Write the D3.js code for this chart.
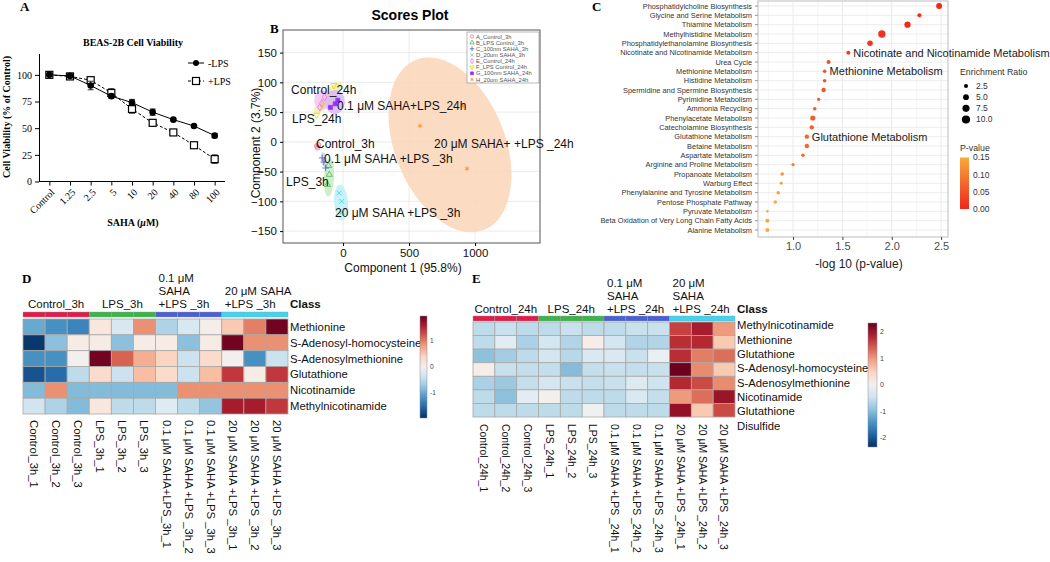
<!DOCTYPE html>
<html>
<head>
<meta charset="utf-8">
<script src="https://cdn.jsdelivr.net/npm/d3@7"></script>
<style>
  body { margin: 0; background: #fff; }
  svg { display: block; font-family: "Liberation Sans", Arial, sans-serif; }
</style>
</head>
<body>
<svg id="fig" width="1050" height="562"></svg>
<script>
// ---- data: panel A (cell viability) ----
var doses = ["Control", "1.25", "2.5", "5", "10", "20", "40", "80", "100"];
var viabNoLPS = [100, 99, 90, 80, 74, 65, 58, 52, 43];
var errNoLPS = [1, 1.5, 4, 2, 3, 3, 1, 1, 2];
var viabLPS = [100, 98.5, 95, 83, 68, 55, 46, 34, 21];
var errLPS = [1, 2, 1, 4, 4, 2, 2, 2, 4];

// ---- data: panel B (PCA scores) ----
var pcaGroups = ["A_Control_3h", "B_LPS Control_3h", "C_100nm SAHA_3h", "D_20um SAHA_3h",
                 "E_Control_24h", "F_LPS Control_24h", "G_100nm SAHA_24h", "H_20um SAHA_24h"];
var pcaGroupOf = [0,0,0, 1,1,1, 2,2,2, 3,3,3, 4,4,4, 5,5,5, 6,6,6, 7,7,7];
var pc1 = [-200,-192,-186, -110,-118,-104, -158,-146,-132, -30,-10,-5, -160,-140,-176, -200,-160,-70, -40,-95,-60, 909,583,939];
var pc2 = [-7,-10,-5, -40,-72,-55, -27,-34,-44, -86,-100,-118, 65,75,58, 45,62,95, 70,58,64, 60,27,-45];
// confidence ellipses: group, centre (pc1, pc2), semi-axes in pc units, tilt (deg)
var ellGroup = [7, 3, 1, 2, 0, 5, 4, 6];
var ellCx = [810, -15, -106, -144, -192, -114, -159, -61];
var ellCy = [-5, -102, -60, -30, -7, 74, 70, 67];
var ellRx = [417, 53, 38, 23, 23, 45, 60, 76];
var ellRy = [154, 30, 32, 13, 5, 34, 17, 20];
var ellAngle = [-22, -4, 3, -10, 0, 40, 0, 0];
var scoreLabels = ["Control_24h", "0.1 μM SAHA+LPS_24h", "LPS_24h", "Control_3h",
                   "0.1 μM SAHA +LPS _3h", "20 μM SAHA+ +LPS _24h", "LPS_3h", "20 μM SAHA +LPS _3h"];
var scoreLabelPc1 = [-394, -45, -386, -205, -144, 689, -432, -61];
var scoreLabelPc2 = [80, 54, 32, -10, -35, -10, -75, -126];

// ---- data: panel C (pathway enrichment) ----
var pathways = ["Phosphatidylcholine Biosynthesis", "Glycine and Serine Metabolism", "Thiamine Metabolism",
  "Methylhistidine Metabolism", "Phosphatidylethanolamine Biosynthesis", "Nicotinate and Nicotinamide Metabolism",
  "Urea Cycle", "Methionine Metabolism", "Histidine Metabolism", "Spermidine and Spermine Biosynthesis",
  "Pyrimidine Metabolism", "Ammonia Recycling", "Phenylacetate Metabolism", "Catecholamine Biosynthesis",
  "Glutathione Metabolism", "Betaine Metabolism", "Aspartate Metabolism", "Arginine and Proline Metabolism",
  "Propanoate Metabolism", "Warburg Effect", "Phenylalanine and Tyrosine Metabolism", "Pentose Phosphate Pathway",
  "Pyruvate Metabolism", "Beta Oxidation of Very Long Chain Fatty Acids", "Alanine Metabolism"];
var negLogP = [2.48, 2.28, 2.16, 1.90, 1.78, 1.56, 1.36, 1.32, 1.32, 1.31, 1.26, 1.22, 1.20, 1.19,
  1.14, 1.14, 1.10, 1.00, 0.89, 0.88, 0.85, 0.82, 0.74, 0.74, 0.74];
var enrichRatio = [5.3, 2.4, 5.9, 8.0, 4.6, 2.4, 2.4, 1.9, 1.9, 2.9, 1.6, 1.9, 4.0, 2.9,
  2.9, 2.9, 1.9, 1.6, 1.9, 1.3, 1.9, 1.9, 1.0, 2.4, 2.4];
var calloutNames = ["Nicotinate and Nicotinamide Metabolism", "Methionine Metabolism", "Glutathione Metabolism"];

// ---- data: panels D and E (heatmaps) ----
var groupsD = ["Control_3h", "LPS_3h", "0.1 μM\nSAHA\n+LPS _3h", "20 μM SAHA\n+LPS _3h"];
var samplesD = ["Control_3h_1", "Control_3h_2", "Control_3h_3", "LPS_3h_1", "LPS_3h_2", "LPS_3h_3",
  "0.1 μM SAHA+LPS_3h_1", "0.1 μM SAHA +LPS _3h_2", "0.1 μM SAHA +LPS _3h_3",
  "20 μM SAHA +LPS _3h_1", "20 μM SAHA +LPS _3h_2", "20 μM SAHA +LPS _3h_3"];
var metabD = ["Methionine", "S-Adenosyl-homocysteine", "S-Adenosylmethionine", "Glutathione", "Nicotinamide", "Methylnicotinamide"];
var heatD = [
  [-1.0, -1.2, -1.3, 0.2, -0.3, 0.9, -0.6, -0.3, 0.05, 0.5, 1.0, 1.9],
  [-1.9, -0.8, 0.12, 0.12, -0.8, 0.12, 0.12, -0.8, 0.12, 1.9, 0.9, 0.9],
  [-1.2, -1.2, 0.0, 1.9, 1.15, 0.7, 0.4, -0.4, 0.35, 0.0, -1.2, -0.4],
  [-1.7, -1.5, -0.5, 0.35, -0.4, 0.6, 0.35, -0.4, 0.6, 1.4, 0.12, 1.4],
  [-0.85, 0.9, -0.85, -0.85, -0.85, -0.85, -0.85, 0.9, 0.9, 0.9, 0.9, 0.9],
  [-0.35, -0.6, -0.85, 0.2, -0.5, -0.5, -0.25, -0.5, -0.75, 1.6, 1.6, 1.4]
];
var groupsE = ["Control_24h", "LPS_24h", "0.1 μM\nSAHA\n+LPS _24h", "20 μM\nSAHA\n+LPS _24h"];
var samplesE = ["Control_24h_1", "Control_24h_2", "Control_24h_3", "LPS_24h_1", "LPS_24h_2", "LPS_24h_3",
  "0.1 μM SAHA +LPS _24h_1", "0.1 μM SAHA +LPS _24h_2", "0.1 μM SAHA +LPS _24h_3",
  "20 μM SAHA +LPS _24h_1", "20 μM SAHA +LPS _24h_2", "20 μM SAHA +LPS _24h_3"];
var metabE = ["Methylnicotinamide", "Methionine", "Glutathione", "S-Adenosyl-homocysteine",
  "S-Adenosylmethionine", "Nicotinamide", "Glutathione\nDisulfide"];
var heatE = [
  [-0.6, -0.5, -0.6, -0.6, -0.5, -0.6, -0.6, -0.5, -0.5, 1.6, 1.9, 1.0],
  [-0.6, -0.25, -0.75, -0.4, -0.7, 0.1, -0.4, -0.7, -0.7, 1.75, 1.8, 0.6],
  [-0.95, -0.8, -0.6, -0.4, -0.65, -0.35, -0.35, -0.5, -0.15, 1.75, 1.2, 1.3],
  [0.1, -0.5, -0.55, -0.55, -1.0, -0.55, -0.5, -0.55, -0.5, 2.3, 1.1, 0.6],
  [-0.75, -0.85, -0.55, -0.4, -0.5, -0.55, -0.5, -0.3, -0.45, 1.8, 1.55, 1.1],
  [-0.6, -0.95, -0.25, 0.05, -0.6, -0.6, -0.6, -0.35, -0.55, 1.0, 1.3, 2.0],
  [-0.6, -0.6, -0.6, -0.6, -0.6, -0.05, -0.6, -0.6, -0.6, 2.05, 0.6, 1.55]
];

// ---- styles ----
var serif = "'Liberation Serif', 'Times New Roman', serif";
var pcaColors = ["#f4748c", "#4cb84c", "#3a5fcd", "#40d0e8", "#ee70ee", "#e0d400", "#9b30ff", "#ff8c1a"];
// ellipse fill per group (A..H)
var ellFill = ["#f8c8d2", "#c4eac4", "#cfd2f6", "#bdf0f8", "#f3c6f3", "#f4ef9c", "#d9b8f2", "#fbd5b8"];
var classColors = ["#e31a4a", "#3bb54a", "#4860d6", "#3fd4f2"];

var svg = d3.select("#fig");

function panelLetter(t, x, y) {
  svg.append("text").attr("x", x).attr("y", y).attr("font-family", serif)
    .attr("font-weight", "bold").attr("font-size", 13).text(t);
}
panelLetter("A", 20, 11);
panelLetter("B", 270, 33);
panelLetter("C", 592, 11);
panelLetter("D", 22, 283);
panelLetter("E", 472, 283);

// ================= panel A =================
(function () {
  var g = svg.append("g").attr("font-family", serif);
  var x = d3.scalePoint().domain(doses).range([39, 225]).padding(0.5);
  var y = d3.scaleLinear().domain([0, 120]).range([181.5, 53.5]);

  g.append("text").attr("x", 133).attr("y", 46).attr("text-anchor", "middle")
    .attr("font-weight", "bold").attr("font-size", 10).text("BEAS-2B Cell Viability");

  var ax = g.append("g").attr("transform", "translate(0,181.5)")
    .call(d3.axisBottom(x).tickSize(4).tickSizeOuter(0));
  ax.attr("font-family", serif).attr("font-size", 10);
  ax.select(".domain").attr("d", "M39,0H225");
  ax.selectAll(".tick text").attr("x", 0).attr("y", 0).attr("dy", "0.35em")
    .attr("text-anchor", "end").attr("transform", "translate(3,9) rotate(-45)").attr("fill", "#000");

  var ay = g.append("g").attr("transform", "translate(39,0)")
    .call(d3.axisLeft(y).tickValues([0, 25, 50, 75, 100]).tickSize(4).tickSizeOuter(0));
  ay.attr("font-family", serif).attr("font-size", 10);
  ay.selectAll(".tick text").attr("fill", "#000");

  g.append("text").attr("transform", "translate(10,117) rotate(-90)").attr("text-anchor", "middle")
    .attr("font-weight", "bold").attr("font-size", 10).text("Cell Viability (% of Control)");
  g.append("text").attr("x", 133).attr("y", 226).attr("text-anchor", "middle")
    .attr("font-weight", "bold").attr("font-size", 10)
    .html("SAHA (<tspan font-style='italic'>μ</tspan>M)");

  function series(vals, errs, dashed, square) {
    var line = d3.line().x(function (d, i) { return x(doses[i]); }).y(function (d) { return y(d); });
    g.append("path").attr("d", line(vals)).attr("fill", "none").attr("stroke", "#000")
      .attr("stroke-width", 1).attr("stroke-dasharray", dashed ? "3,2" : null);
    vals.forEach(function (v, i) {
      var cx = x(doses[i]);
      g.append("path").attr("d", "M" + cx + "," + y(v - errs[i]) + "V" + y(v + errs[i]) +
        "M" + (cx - 3) + "," + y(v - errs[i]) + "h6M" + (cx - 3) + "," + y(v + errs[i]) + "h6")
        .attr("stroke", "#000").attr("stroke-width", 0.8).attr("fill", "none");
      if (square) {
        g.append("rect").attr("x", cx - 3.5).attr("y", y(v) - 3.5).attr("width", 7).attr("height", 7)
          .attr("fill", "#fff").attr("stroke", "#000").attr("stroke-width", 1.2);
      } else {
        g.append("circle").attr("cx", cx).attr("cy", y(v)).attr("r", 3.3).attr("fill", "#000");
      }
    });
  }
  series(viabLPS, errLPS, true, true);
  series(viabNoLPS, errNoLPS, false, false);

  // legend
  var lg = g.append("g");
  lg.append("line").attr("x1", 188).attr("x2", 204).attr("y1", 63).attr("y2", 63).attr("stroke", "#000");
  lg.append("circle").attr("cx", 196).attr("cy", 63).attr("r", 3).attr("fill", "#000");
  lg.append("text").attr("x", 208).attr("y", 66.5).attr("font-size", 10).text("-LPS");
  lg.append("line").attr("x1", 188).attr("x2", 204).attr("y1", 81).attr("y2", 81).attr("stroke", "#000").attr("stroke-dasharray", "3,2");
  lg.append("rect").attr("x", 192.5).attr("y", 77.5).attr("width", 7).attr("height", 7)
    .attr("fill", "#fff").attr("stroke", "#000").attr("stroke-width", 1.2);
  lg.append("text").attr("x", 208).attr("y", 84.5).attr("font-size", 10).text("+LPS");
})();

// ================= panel B =================
(function () {
  var g = svg.append("g");
  var L = 283, R = 540, T = 30, B = 243;
  var x = d3.scaleLinear().domain([-455, 1492]).range([L, R]);
  var y = d3.scaleLinear().domain([-170, 188]).range([B, T]);

  g.append("text").attr("x", 410).attr("y", 20).attr("text-anchor", "middle")
    .attr("font-weight", "bold").attr("font-size", 14).text("Scores Plot");

  g.append("defs").append("clipPath").attr("id", "clipB").append("rect")
    .attr("x", L).attr("y", T).attr("width", R - L).attr("height", B - T);

  var grid = g.append("g").attr("stroke", "#e6e6e6").attr("stroke-width", 0.8);
  [0, 500, 1000].forEach(function (v) {
    grid.append("line").attr("x1", x(v)).attr("x2", x(v)).attr("y1", T).attr("y2", B);
  });
  [-150, -100, -50, 0, 50, 100, 150].forEach(function (v) {
    grid.append("line").attr("x1", L).attr("x2", R).attr("y1", y(v)).attr("y2", y(v));
  });

  var plot = g.append("g").attr("clip-path", "url(#clipB)");
  ellGroup.forEach(function (gi, k) {
    plot.append("ellipse")
      .attr("transform", "translate(" + x(ellCx[k]) + "," + y(ellCy[k]) + ") rotate(" + ellAngle[k] + ")")
      .attr("rx", x(ellRx[k]) - x(0)).attr("ry", y(0) - y(ellRy[k]))
      .attr("fill", ellFill[gi]).attr("fill-opacity", 0.85);
  });

  var symTimes = d3.symbolTimes || d3.symbolCross;
  var symPlus = d3.symbolPlus || d3.symbolCross;
  var symAst = d3.symbolAsterisk || d3.symbolStar;
  var syms = [d3.symbolCircle, d3.symbolTriangle, symPlus, symTimes, d3.symbolDiamond, d3.symbolTriangle, d3.symbolSquare, symAst];
  function drawSym(sel, gi, size) {
    sel.attr("d", d3.symbol().type(syms[gi]).size(size)());
    if (gi === 6) sel.attr("fill", pcaColors[gi]);
    else sel.attr("fill", "none");
    sel.attr("stroke", pcaColors[gi]).attr("stroke-width", 0.8);
  }
  pc1.forEach(function (v, i) {
    var gi = pcaGroupOf[i];
    var p = plot.append("path").attr("transform", "translate(" + x(v) + "," + y(pc2[i]) + ")" + (gi === 5 ? " rotate(180)" : ""));
    drawSym(p, gi, 16);
  });

  g.append("rect").attr("x", L).attr("y", T).attr("width", R - L).attr("height", B - T)
    .attr("fill", "none").attr("stroke", "#555").attr("stroke-width", 1);

  var ay = g.append("g").attr("transform", "translate(" + L + ",0)")
    .call(d3.axisLeft(y).tickValues([-150, -100, -50, 0, 50, 100, 150]).tickSize(3).tickSizeOuter(0));
  ay.select(".domain").remove();
  ay.attr("font-size", 11.5).attr("font-family", "'Liberation Sans', Arial, sans-serif");
  ay.selectAll(".tick text").attr("fill", "#111");
  var ax = g.append("g").attr("transform", "translate(0," + B + ")")
    .call(d3.axisBottom(x).tickValues([0, 500, 1000]).tickFormat(d3.format("d")).tickSize(3).tickSizeOuter(0));
  ax.select(".domain").remove();
  ax.attr("font-size", 11.5).attr("font-family", "'Liberation Sans', Arial, sans-serif");
  ax.selectAll(".tick text").attr("fill", "#111");

  g.append("text").attr("x", 403).attr("y", 272).attr("text-anchor", "middle").attr("font-size", 12).attr("fill", "#111")
    .text("Component 1 (95.8%)");
  g.append("text").attr("transform", "translate(260,143) rotate(-90)").attr("text-anchor", "middle")
    .attr("font-size", 12).attr("fill", "#111").text("Component 2 (3.7%)");

  scoreLabels.forEach(function (t, i) {
    g.append("text").attr("x", x(scoreLabelPc1[i])).attr("y", y(scoreLabelPc2[i]))
      .attr("font-size", 12).attr("fill", "#111").text(t);
  });

  // legend
  var lg = g.append("g");
  lg.append("rect").attr("x", 467).attr("y", 32).attr("width", 72).attr("height", 51)
    .attr("fill", "#fff").attr("stroke", "#888").attr("stroke-width", 0.6);
  var ly = d3.scalePoint().domain(pcaGroups).range([36.5, 79.5]);
  pcaGroups.forEach(function (name, gi) {
    var p = lg.append("path").attr("transform", "translate(472," + ly(name) + ")" + (gi === 5 ? " rotate(180)" : ""));
    drawSym(p, gi, 8);
    lg.append("text").attr("x", 476).attr("y", ly(name)).attr("dy", "0.35em")
      .attr("font-size", 5.8).attr("fill", "#555").text(name);
  });
})();

// ================= panel C =================
(function () {
  var g = svg.append("g");
  var L = 758, R = 948, T = 1, B = 237;
  var y = d3.scalePoint().domain(pathways).range([6, 230]);
  var x = d3.scaleLinear().domain([0.645, 2.57]).range([L, R]);
  var r = d3.scaleSqrt().domain([0, 10]).range([0, 4.1]);
  var col = d3.scaleLinear().domain([0, 0.15]).range(["#f0261a", "#f8aa3c"]).clamp(true);

  g.append("rect").attr("x", L).attr("y", T).attr("width", R - L).attr("height", B - T).attr("fill", "#fff");
  var grid = g.append("g").attr("stroke", "#ebebeb");
  [0.75, 1.25, 1.75, 2.25].forEach(function (v) {
    grid.append("line").attr("x1", x(v)).attr("x2", x(v)).attr("y1", T).attr("y2", B).attr("stroke-width", 0.5);
  });
  [1, 1.5, 2, 2.5].forEach(function (v) {
    grid.append("line").attr("x1", x(v)).attr("x2", x(v)).attr("y1", T).attr("y2", B).attr("stroke-width", 1);
  });
  pathways.forEach(function (p) {
    grid.append("line").attr("x1", L).attr("x2", R).attr("y1", y(p)).attr("y2", y(p)).attr("stroke-width", 0.9);
  });

  pathways.forEach(function (p, i) {
    g.append("circle").attr("cx", x(negLogP[i])).attr("cy", y(p)).attr("r", r(enrichRatio[i]))
      .attr("fill", col(Math.pow(10, -negLogP[i])));
    g.append("text").attr("x", 752).attr("y", y(p)).attr("dy", "0.35em").attr("text-anchor", "end")
      .attr("font-size", 7.4).attr("fill", "#333").text(p);
    g.append("line").attr("x1", 755).attr("x2", L).attr("y1", y(p)).attr("y2", y(p)).attr("stroke", "#444").attr("stroke-width", 0.6);
  });
  g.append("rect").attr("x", L).attr("y", T).attr("width", R - L).attr("height", B - T)
    .attr("fill", "none").attr("stroke", "#bbb").attr("stroke-width", 1);

  var ax = g.append("g").attr("transform", "translate(0," + B + ")")
    .call(d3.axisBottom(x).tickValues([1, 1.5, 2, 2.5]).tickFormat(d3.format(".1f")).tickSize(3).tickSizeOuter(0));
  ax.select(".domain").remove();
  ax.attr("font-size", 11).attr("font-family", "'Liberation Sans', Arial, sans-serif");
  ax.selectAll(".tick line").attr("stroke", "#444");
  ax.selectAll(".tick text").attr("fill", "#4d4d4d").attr("y", 5);
  g.append("text").attr("x", 859).attr("y", 268).attr("text-anchor", "middle").attr("font-size", 12)
    .attr("fill", "#222").text("-log 10 (p-value)");

  // callouts
  calloutNames.forEach(function (name) {
    var i = pathways.indexOf(name);
    g.append("text").attr("x", x(negLogP[i]) + 5).attr("y", y(name) + 4).attr("font-size", 11)
      .attr("fill", "#222").text(name);
  });

  // size legend
  g.append("text").attr("x", 960).attr("y", 75).attr("font-size", 8.8).attr("fill", "#333").text("Enrichment Ratio");
  var ly = d3.scalePoint().domain([2.5, 5, 7.5, 10]).range([86, 119.5]);
  [2.5, 5, 7.5, 10].forEach(function (v) {
    g.append("circle").attr("cx", 966).attr("cy", ly(v)).attr("r", r(v)).attr("fill", "#000");
    g.append("text").attr("x", 976).attr("y", ly(v)).attr("dy", "0.35em").attr("font-size", 8.5)
      .attr("fill", "#333").text(d3.format(".1f")(v));
  });
  // colour legend
  g.append("text").attr("x", 960).attr("y", 151).attr("font-size", 8.8).attr("fill", "#333").text("P-value");
  var grad = svg.append("defs").append("linearGradient").attr("id", "pgrad")
    .attr("x1", 0).attr("x2", 0).attr("y1", 0).attr("y2", 1);
  grad.append("stop").attr("offset", "0%").attr("stop-color", col(0.15));
  grad.append("stop").attr("offset", "100%").attr("stop-color", col(0));
  var cy = d3.scaleLinear().domain([0, 0.15]).range([209, 157.5]);
  g.append("rect").attr("x", 960).attr("y", cy(0.15)).attr("width", 9).attr("height", cy(0) - cy(0.15))
    .attr("fill", "url(#pgrad)");
  [0, 0.05, 0.1, 0.15].forEach(function (v) {
    g.append("text").attr("x", 973).attr("y", cy(v)).attr("dy", "0.35em").attr("font-size", 8.5)
      .attr("fill", "#333").text(d3.format(".2f")(v));
  });
})();

// ================= panels D and E =================
function heatmap(c) {
  var g = svg.append("g");
  var x = d3.scaleBand().domain(d3.range(c.samples.length)).range([c.x0, c.x1]);
  var y = d3.scaleBand().domain(d3.range(c.rows.length)).range([c.y0, c.y1]);
  var color = d3.scaleSequential(function (t) { return d3.interpolateRdBu(1 - t); }).domain([-c.lim, c.lim]);

  g.selectAll("rect.cls").data(c.samples).enter().append("rect")
    .attr("x", function (d, i) { return x(i); }).attr("y", c.barY)
    .attr("width", x.bandwidth()).attr("height", c.barH)
    .attr("fill", function (d, i) { return classColors[Math.floor(i / 3)]; })
    .attr("stroke", "#9a9a9a").attr("stroke-width", 0.4);

  c.values.forEach(function (row, ri) {
    g.selectAll(null).data(row).enter().append("rect")
      .attr("x", function (d, i) { return x(i); }).attr("y", y(ri))
      .attr("width", x.bandwidth()).attr("height", y.bandwidth())
      .attr("fill", function (d) { return color(d); })
      .attr("stroke", "#a8a8a8").attr("stroke-width", 0.8);
  });

  // group labels
  c.groups.forEach(function (lab, k) {
    var lines = lab.split("\n");
    var gx0 = x(k * 3), gx1 = x(k * 3 + 2) + x.bandwidth();
    lines.forEach(function (ln, li) {
      var t = g.append("text").attr("y", c.labY - (lines.length - 1 - li) * 13).attr("dy", "0.35em")
        .attr("font-size", 11.5).attr("fill", "#111").text(ln);
      if (lines.length === 1 && k < 2) t.attr("x", (gx0 + gx1) / 2).attr("text-anchor", "middle");
      else t.attr("x", gx0 + 3);
    });
  });
  g.append("text").attr("x", c.x1 + 2).attr("y", c.labY).attr("dy", "0.35em").attr("font-size", 11.5)
    .attr("font-weight", "bold").attr("fill", "#111").text("Class");

  // row labels
  c.rows.forEach(function (name, ri) {
    var lines = name.split("\n");
    lines.forEach(function (ln, li) {
      g.append("text").attr("x", c.x1 + 2).attr("y", c.rowLab(ri) + li * c.lineH).attr("dy", "0.35em")
        .attr("font-size", 11.3).attr("fill", "#111").text(ln);
    });
  });

  // sample labels
  c.samples.forEach(function (s, i) {
    g.append("text").attr("transform", "translate(" + (x(i) + x.bandwidth() / 2) + "," + c.sampY + ") rotate(90)")
      .attr("dy", "0.35em").attr("font-size", c.sampFont).attr("fill", "#111").text(s);
  });

  // colour bar
  var id = "hgrad" + c.id;
  var grad = svg.append("defs").append("linearGradient").attr("id", id)
    .attr("x1", 0).attr("x2", 0).attr("y1", 1).attr("y2", 0);
  d3.range(0, 1.0001, 0.1).forEach(function (t) {
    grad.append("stop").attr("offset", (t * 100) + "%").attr("stop-color", color(-c.lim + 2 * c.lim * t));
  });
  var cy = d3.scaleLinear().domain([-c.lim, c.lim]).range([c.barB, c.barT]);
  g.append("rect").attr("x", c.barX).attr("y", c.barT).attr("width", c.barW).attr("height", c.barB - c.barT)
    .attr("fill", "url(#" + id + ")").attr("stroke", "#8a8aa0").attr("stroke-width", 0.5);
  c.ticks.forEach(function (v) {
    g.append("text").attr("x", c.barX + c.barW + 3).attr("y", cy(v)).attr("dy", "0.35em")
      .attr("font-size", c.tickFont).attr("fill", "#444").text(v);
  });
}

heatmap({
  id: "D", samples: samplesD, rows: metabD, values: heatD, groups: groupsD, lim: 1.96,
  x0: 23, x1: 288, barY: 312, barH: 5, y0: 319, y1: 414, labY: 304,
  rowLab: function (i) { return 319 + (i + 0.5) * (95 / 6); }, lineH: 14,
  sampY: 420, sampFont: 11.3,
  barX: 420, barW: 7, barT: 316, barB: 418, ticks: [-1, 0, 1], tickFont: 6.5
});

heatmap({
  id: "E", samples: samplesE, rows: metabE, values: heatE, groups: groupsE, lim: 2.34,
  x0: 473, x1: 735, barY: 316, barH: 5, y0: 322, y1: 417, labY: 309,
  rowLab: function (i) { return 325.5 + i * 14.3; }, lineH: 14.3,
  sampY: 424, sampFont: 10.4,
  barX: 868, barW: 9, barT: 323, barB: 447, ticks: [-2, -1, 0, 1, 2], tickFont: 7
});
</script>
</body>
</html>
